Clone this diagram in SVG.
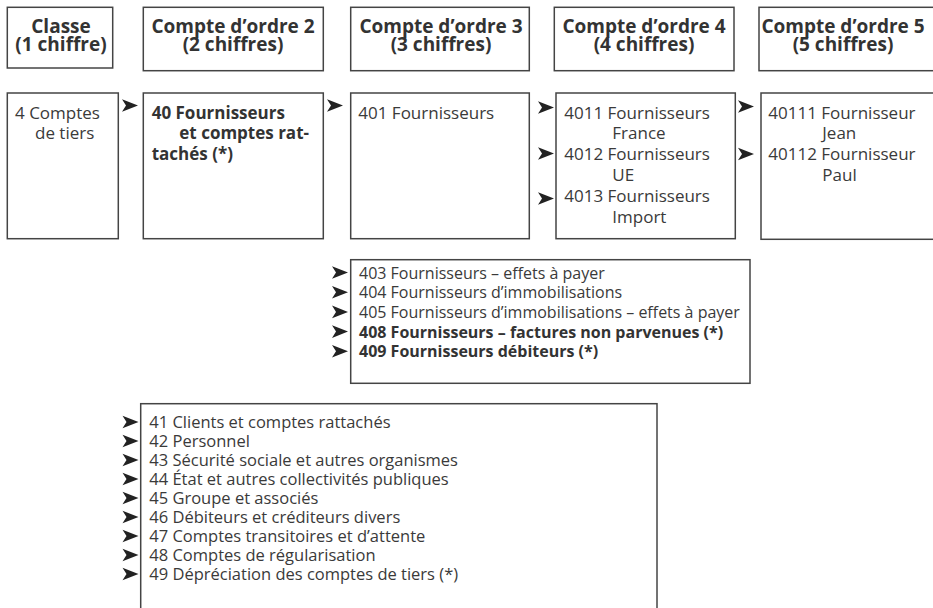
<svg xmlns="http://www.w3.org/2000/svg" width="933" height="608" viewBox="0 0 933 608">
<defs>
<style>
.box{fill:#fff;stroke:#444;stroke-width:1.5}
.h{font-family:"Open Sans","Noto Sans","Liberation Sans",sans-serif;font-weight:bold;font-size:19px;fill:#333;text-anchor:middle}
.t{font-family:"Open Sans","Noto Sans","Liberation Sans",sans-serif;font-size:17px;fill:#3a3a3a}
.l1{font-size:16px}
.l2{font-size:16.5px}
.b{font-weight:bold;fill:#333}
.ar{fill:#222}
</style>
<path id="arr" d="M0,-6.3 L16,0 L0,6.3 L4,0 Z"/>
</defs>
<rect width="933" height="608" fill="#fff"/>

<g id="h1"><rect class="box" x="7.3" y="7.3" width="105.4" height="60.7"/><text class="h" x="61" y="32.5">Classe</text><text class="h" x="61" y="50.5">(1 chiffre)</text></g>
<g id="h2"><rect class="box" x="143.3" y="7.3" width="180" height="63.4"/><text class="h" x="233" y="32.5">Compte d’ordre 2</text><text class="h" x="233" y="50.5">(2 chiffres)</text></g>
<g id="h3"><rect class="box" x="350.7" y="7.3" width="178.6" height="63.4"/><text class="h" x="441" y="32.5">Compte d’ordre 3</text><text class="h" x="441" y="50.5">(3 chiffres)</text></g>
<g id="h4"><rect class="box" x="554.3" y="7.3" width="179.7" height="63.4"/><text class="h" x="644" y="32.5">Compte d’ordre 4</text><text class="h" x="644" y="50.5">(4 chiffres)</text></g>
<g id="h5"><rect class="box" x="759" y="7.3" width="190" height="63.4"/><text class="h" x="843" y="32.5">Compte d’ordre 5</text><text class="h" x="843" y="50.5">(5 chiffres)</text></g>

<g id="n1"><rect class="box" x="7.3" y="93" width="111" height="145.7"/><text class="t" x="15" y="118.5">4 Comptes</text><text class="t" x="35" y="138.5">de tiers</text></g>
<g id="n2"><rect class="box" x="143.3" y="93" width="180" height="145.7"/><text class="t b" x="151.7" y="118.5">40 Fournisseurs</text><text class="t b" x="179.3" y="139">et comptes rat-</text><text class="t b" x="151.7" y="159.5">tachés (*)</text></g>
<g id="n3"><rect class="box" x="350.7" y="93" width="178.6" height="145.7"/><text class="t" x="358.3" y="118.5">401 Fournisseurs</text></g>
<g id="n4"><rect class="box" x="556" y="93" width="179.3" height="145.7"/>
<text class="t" x="564.3" y="118.5">4011 Fournisseurs</text><text class="t" x="612.3" y="139.3">France</text>
<text class="t" x="564.3" y="160.1">4012 Fournisseurs</text><text class="t" x="612.3" y="180.9">UE</text>
<text class="t" x="564.3" y="201.7">4013 Fournisseurs</text><text class="t" x="612.3" y="222.5">Import</text></g>
<g id="n5"><rect class="box" x="761" y="93" width="190" height="146.3"/>
<text class="t" x="768.3" y="118.5">40111 Fournisseur</text><text class="t" x="822.3" y="139.3">Jean</text>
<text class="t" x="768.3" y="160.1">40112 Fournisseur</text><text class="t" x="822.3" y="180.9">Paul</text></g>

<g id="n6"><rect class="box" x="350.7" y="259.7" width="399.3" height="123.6"/>
<text class="t l1" x="359" y="278.5">403 Fournisseurs – effets à payer</text>
<text class="t l1" x="359" y="298.2">404 Fournisseurs d’immobilisations</text>
<text class="t l1" x="359" y="317.9">405 Fournisseurs d’immobilisations – effets à payer</text>
<text class="t l1 b" x="359" y="337.6">408 Fournisseurs – factures non parvenues (*)</text>
<text class="t l1 b" x="359" y="357.3">409 Fournisseurs débiteurs (*)</text></g>

<g id="n7"><rect class="box" x="140.7" y="403.7" width="516.3" height="220"/>
<text class="t l2" x="149.3" y="428">41 Clients et comptes rattachés</text>
<text class="t l2" x="149.3" y="447">42 Personnel</text>
<text class="t l2" x="149.3" y="466">43 Sécurité sociale et autres organismes</text>
<text class="t l2" x="149.3" y="485">44 État et autres collectivités publiques</text>
<text class="t l2" x="149.3" y="504">45 Groupe et associés</text>
<text class="t l2" x="149.3" y="523">46 Débiteurs et créditeurs divers</text>
<text class="t l2" x="149.3" y="542">47 Comptes transitoires et d’attente</text>
<text class="t l2" x="149.3" y="561">48 Comptes de régularisation</text>
<text class="t l2" x="149.3" y="580">49 Dépréciation des comptes de tiers (*)</text></g>

<g id="connectors" class="ar">
<use href="#arr" x="122" y="105.5"/>
<use href="#arr" x="327" y="105.5"/>
<use href="#arr" x="538" y="107.5"/>
<use href="#arr" x="538" y="153.5"/>
<use href="#arr" x="538" y="198.5"/>
<use href="#arr" x="738" y="106.5"/>
<use href="#arr" x="738" y="154"/>
<use href="#arr" x="332" y="272.5"/>
<use href="#arr" x="332" y="292.2"/>
<use href="#arr" x="332" y="311.9"/>
<use href="#arr" x="332" y="331.6"/>
<use href="#arr" x="332" y="351.3"/>
<use href="#arr" x="122.5" y="422"/>
<use href="#arr" x="122.5" y="441"/>
<use href="#arr" x="122.5" y="460"/>
<use href="#arr" x="122.5" y="479"/>
<use href="#arr" x="122.5" y="498"/>
<use href="#arr" x="122.5" y="517"/>
<use href="#arr" x="122.5" y="536"/>
<use href="#arr" x="122.5" y="555"/>
<use href="#arr" x="122.5" y="574"/>
</g>
</svg>
